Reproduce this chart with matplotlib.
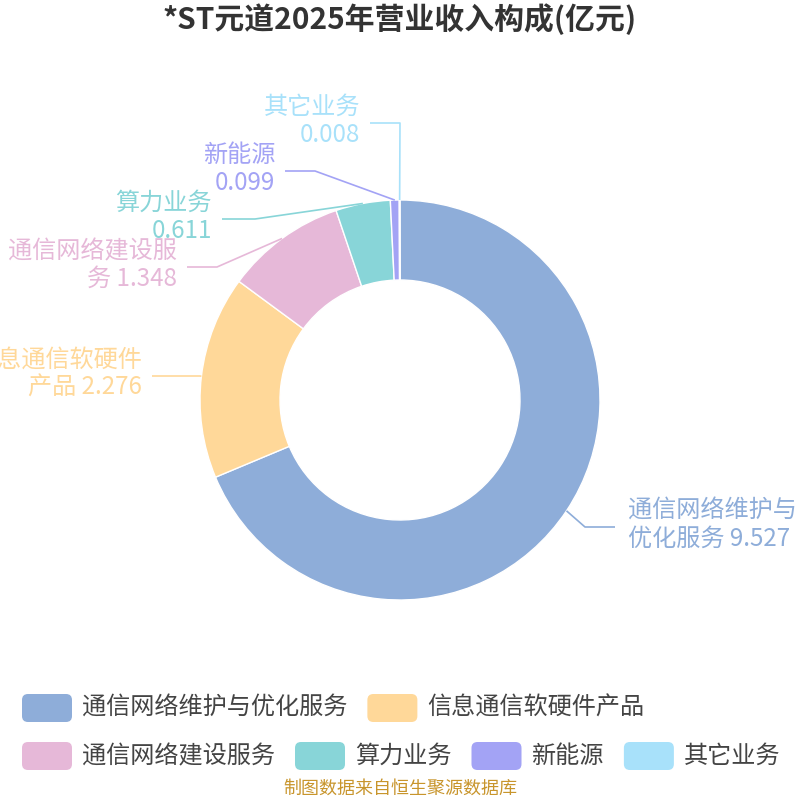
import matplotlib
matplotlib.use('Agg')
import matplotlib.pyplot as plt
from matplotlib.patches import FancyBboxPatch
import numpy as np

plt.rcParams['font.family'] = ['Noto Sans CJK SC', 'DejaVu Sans']

# ---------------- data ----------------
title = '*ST元道2025年营业收入构成(亿元)'
categories = ['通信网络维护与优化服务', '信息通信软硬件产品', '通信网络建设服务',
              '算力业务', '新能源', '其它业务']
values = [9.527, 2.276, 1.348, 0.611, 0.099, 0.008]
colors = ['#8eadd9', '#ffd899', '#e6b8d8', '#88d5d8', '#a3a3f5', '#a8e1fa']
source = '制图数据来自恒生聚源数据库'

# ---------------- layout ----------------
# number of characters on the first line of each wrapped label (None = name / value lines)
wrap_at = [7, 7, 7, None, None, None]
# label line elbow and end points (pixels, y down)
elbows = [(585, 527), (200, 376), (217, 267), (255, 219), (315, 171), (400, 123)]
ends = [(615, 527), (152, 376), (187, 267), (222, 219), (285, 171), (370, 123)]

W = H = 800
fig = plt.figure(figsize=(8, 8), dpi=100)
ax = fig.add_axes([0, 0, 1, 1])

cx, cy, R, ring = 400, 400, 200, 80
wedges, _ = ax.pie(values, colors=colors, startangle=-90, counterclock=True,
                   radius=R, center=(cx, cy),
                   wedgeprops=dict(width=ring, edgecolor='white', linewidth=1))
ax.set_xlim(0, W)
ax.set_ylim(H, 0)
ax.set_aspect('equal')
ax.axis('off')

total = sum(values)
cum = 0
fs = 17.4
for i, (name, v) in enumerate(zip(categories, values)):
    mid = -90 + (cum + v / 2) / total * 360
    cum += v
    th = np.deg2rad(mid)
    sx, sy = cx + R * np.cos(th), cy + R * np.sin(th)
    ex, ey = elbows[i]
    tx, ty = ends[i]
    ax.plot([sx, ex, tx], [sy, ey, ty], color=colors[i], lw=1.2,
            solid_capstyle='butt', zorder=1)
    vs = f'{v:.3f}'
    if wrap_at[i] is None:
        txt = f'{name}\n{vs}'
    else:
        full = f'{name} {vs}'
        txt = full[:wrap_at[i]] + '\n' + full[wrap_at[i]:]
    right_side = tx > ex
    if right_side:
        ax.text(tx + 13, ty - 2, txt, ha='left', va='center', ma='left',
                fontsize=fs, color=colors[i], linespacing=1.1)
    else:
        ax.text(tx - 10, ty - 2, txt, ha='right', va='center', ma='right',
                fontsize=fs, color=colors[i], linespacing=1.1)

# title
ax.text(400, 19, title, ha='center', va='center', fontsize=21.5,
        fontweight='bold', color='#333333')

# legend (flow layout, two rows)
rows = [[0, 1], [2, 3, 4, 5]]
row_tops = [694, 742]
hw, hh = 50, 28
fig.canvas.draw()
renderer = fig.canvas.get_renderer()
for r, idxs in enumerate(rows):
    x = 22
    top = row_tops[r]
    for i in idxs:
        p = FancyBboxPatch((x, top), hw, hh,
                           boxstyle='round,pad=0,rounding_size=6',
                           facecolor=colors[i], edgecolor='none')
        ax.add_patch(p)
        t = ax.text(x + hw + 10, top + hh / 2, categories[i], ha='left',
                    va='center', fontsize=fs, color='#444444')
        bb = t.get_window_extent(renderer=renderer)
        x = x + hw + 10 + bb.width + 20

ax.text(400, 789, source, ha='center', va='center', fontsize=13,
        color='#c8952c')

fig.savefig('out.png', dpi=100)
